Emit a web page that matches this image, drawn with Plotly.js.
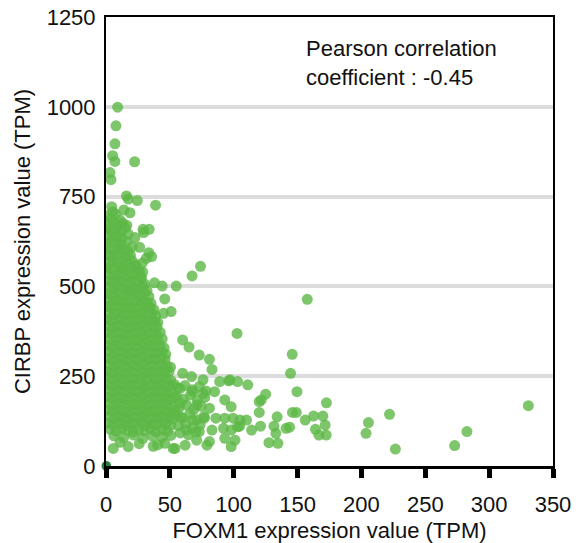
<!DOCTYPE html>
<html>
<head>
<meta charset="utf-8">
<script src="https://cdn.plot.ly/plotly-3.0.1.min.js"></script>
<style>
  html, body { margin: 0; padding: 0; background: #ffffff; }
  #chart { width: 580px; height: 543px; }
</style>
</head>
<body>
<div id="chart"></div>
<script>
// ---- Axis ticks ----
const xTicks = [0, 50, 100, 150, 200, 250, 300, 350];
const yTicks = [0, 250, 500, 750, 1000, 1250];

// ---- Dense core of samples (FOXM1 TPM, CIRBP TPM), read band by band ----
const coreFoxm1 = [
  0.8, 3.9, 7.6, 11.2,
  2.1, 5.8, 9.4, 13.0, 16.3,
  0.5, 4.2, 7.9, 11.8, 15.1,
  1.7, 5.3, 9.0, 12.6, 17.4,
  0.9, 4.6, 8.3, 12.1, 16.0,
  2.4, 6.1, 9.8, 13.5, 17.2, 20.5,
  0.6, 4.0, 7.7, 11.4, 15.0, 19.1,
  1.9, 5.6, 9.3, 13.1, 16.8, 20.3, 23.6,
  0.7, 4.4, 8.2, 11.9, 15.6, 19.4, 22.9, 26.1,
  2.2, 6.0, 9.7, 13.4, 17.1, 20.8, 24.6, 27.8,
  0.9, 4.7, 8.5, 12.2, 16.0, 19.7, 23.5, 27.1, 30.2,
  2.5, 6.3, 10.0, 13.8, 17.5, 21.3, 25.0, 28.8, 32.1,
  0.6, 4.3, 8.0, 11.8, 15.5, 19.2, 23.0, 26.7, 30.4, 33.6,
  2.0, 5.8, 9.5, 13.3, 17.0, 20.8, 24.5, 28.3, 32.0, 35.2,
  0.8, 4.5, 8.3, 12.0, 15.8, 19.5, 23.3, 27.0, 30.8, 34.5, 37.4,
  2.3, 6.0, 9.8, 13.5, 17.3, 21.0, 24.8, 28.5, 32.3, 36.0, 38.9,
  0.7, 4.4, 8.2, 11.9, 15.7, 19.4, 23.2, 26.9, 30.7, 34.4, 38.1, 40.6,
  2.0, 5.7, 9.6, 13.3, 17.2, 21.1, 24.8, 28.5, 32.4, 36.3, 40.0,
  0.9, 4.8, 8.5, 12.2, 16.1, 19.8, 23.7, 27.4, 31.3, 35.0, 38.9, 42.5,
  2.4, 6.2, 10.1, 13.7, 17.6, 21.3, 25.2, 29.1, 32.7, 36.6, 40.3, 44.0,
  0.7, 4.5, 8.2, 12.1, 15.8, 19.7, 23.4, 27.3, 31.0, 34.9, 38.6, 42.3, 45.5,
  2.1, 5.9, 9.6, 13.5, 17.2, 21.1, 24.8, 28.7, 32.4, 36.3, 40.0, 43.9, 46.8,
  0.8, 4.6, 8.3, 12.2, 15.9, 19.8, 23.5, 27.4, 31.1, 35.0, 38.7, 42.6, 46.2,
  2.3, 6.1, 9.8, 13.7, 17.4, 21.3, 25.0, 28.9, 32.6, 36.5, 40.2, 44.1, 47.7, 50.5,
  0.6, 4.4, 8.1, 12.0, 15.7, 19.6, 23.3, 27.2, 30.9, 34.8, 38.5, 42.4, 46.0, 49.3,
  1.5, 5.3, 9.1, 12.9, 16.7, 20.5, 24.3, 28.1, 31.9, 35.7, 39.5, 43.3, 47.1, 50.8,
  0.6, 4.4, 8.2, 12.0, 15.8, 19.6, 23.4, 27.2, 31.0, 34.8, 38.6, 42.4, 46.2, 50.0, 53.5,
  2.2, 6.0, 9.8, 13.6, 17.4, 21.2, 25.0, 28.8, 32.6, 36.4, 40.2, 44.0, 47.8, 51.5,
  0.9, 4.7, 8.5, 12.3, 16.1, 19.9, 23.7, 27.5, 31.3, 35.1, 38.9, 42.7, 46.5, 50.2, 53.9,
  2.5, 6.3, 10.1, 13.9, 17.7, 21.5, 25.3, 29.1, 32.9, 36.7, 40.5, 44.3, 48.1, 51.8,
  1.1, 4.9, 8.7, 12.5, 16.3, 20.1, 23.9, 27.7, 31.5, 35.3, 39.1, 42.9, 46.7, 50.4, 54.2,
  2.8, 6.6, 10.4, 14.2, 18.0, 21.8, 25.6, 29.4, 33.2, 37.0, 40.8, 44.6, 48.4, 52.0,
  1.4, 5.2, 9.0, 12.8, 16.6, 20.4, 24.2, 28.0, 31.8, 35.6, 39.4, 43.2, 47.0, 50.7,
  3.5, 8.0, 12.4, 16.9, 21.3, 25.8, 30.2, 34.7, 39.1, 43.6, 48.0,
  6.2, 13.8, 21.5, 28.9, 36.4, 43.9, 50.8
];
const coreCirbp = [
  697, 688, 701, 684,
  672, 679, 668, 676, 670,
  661, 654, 659, 651, 663,
  643, 637, 641, 634, 646,
  619, 626, 621, 617, 624,
  607, 600, 605, 602, 598, 610,
  589, 583, 586, 590, 581, 587,
  566, 571, 563, 569, 565, 572, 560,
  552, 547, 554, 549, 545, 551, 556, 543,
  534, 529, 531, 536, 528, 533, 538, 526,
  516, 511, 518, 513, 509, 517, 512, 520, 507,
  498, 493, 499, 495, 491, 497, 494, 500, 489,
  480, 476, 482, 474, 479, 477, 483, 475, 481, 472,
  462, 457, 461, 459, 455, 463, 458, 460, 456, 453,
  444, 440, 446, 438, 443, 441, 437, 445, 439, 442, 436,
  426, 421, 427, 423, 420, 425, 422, 428, 419, 424, 418,
  408, 403, 409, 405, 401, 407, 404, 410, 402, 406, 404, 400,
  390, 385, 391, 387, 383, 389, 386, 392, 384, 388, 386,
  372, 367, 373, 369, 365, 371, 368, 374, 366, 370, 368, 372,
  354, 349, 355, 351, 347, 353, 350, 356, 348, 352, 350, 354,
  336, 331, 337, 333, 329, 335, 332, 338, 330, 334, 332, 336, 329,
  318, 313, 319, 315, 311, 317, 314, 320, 312, 316, 314, 318, 311,
  300, 295, 301, 297, 293, 299, 296, 302, 294, 298, 296, 300, 297,
  282, 277, 283, 279, 275, 281, 278, 284, 276, 280, 278, 282, 279, 275,
  264, 259, 265, 261, 257, 263, 260, 266, 258, 262, 260, 264, 261, 263,
  246, 241, 247, 243, 239, 245, 242, 248, 240, 244, 242, 246, 243, 238,
  228, 223, 229, 225, 221, 227, 224, 230, 222, 226, 224, 228, 225, 221, 227,
  210, 205, 211, 207, 203, 209, 206, 212, 204, 208, 206, 210, 207, 203,
  192, 187, 193, 189, 185, 191, 188, 194, 186, 190, 188, 192, 189, 185, 191,
  174, 169, 175, 171, 167, 173, 170, 176, 168, 172, 170, 174, 171, 167,
  156, 151, 157, 153, 149, 155, 152, 158, 150, 154, 152, 156, 153, 149, 155,
  138, 133, 139, 135, 131, 137, 134, 140, 132, 136, 134, 138, 135, 131,
  120, 115, 121, 117, 113, 119, 116, 122, 114, 118, 116, 120, 117, 113,
  102, 97, 104, 99, 95, 101, 98, 103, 96, 100, 97,
  84, 79, 86, 77, 83, 80, 85
];

// ---- Semi-dense shoulder (FOXM1 55-80) ----
const shoulderFoxm1 = [56.1, 61.8, 67.4, 73.0, 78.2, 55.0, 60.5, 66.2, 71.6, 77.3, 57.4, 63.0, 68.8, 74.5,
  54.3, 59.9, 65.6, 71.1, 76.8, 56.8, 62.4, 68.1, 73.7, 58.2, 64.5, 70.3];
const shoulderCirbp = [218, 224, 212, 221, 209, 194, 186, 198, 183, 191, 163, 170, 158, 166,
  141, 134, 146, 129, 138, 112, 118, 106, 115, 92, 87, 95];

// ---- Upper scattered samples ----
const upperFoxm1 = [9.1, 7.8, 7.0, 5.2, 7.0, 22.4, 3.1, 3.9, 16.0, 17.4, 24.5, 38.8, 4.4, 5.5, 14.0, 18.8,
  29.0, 33.8, 22.7, 29.5, 26.3, 33.5, 31.5, 35.7, 28.4, 74.0, 67.4, 28.7, 55.0, 44.0, 38.0, 46.0, 51.0, 45.0];
const upperCirbp = [999, 947, 897, 864, 848, 847, 817, 797, 752, 743, 739, 726, 722, 708, 713, 705,
  659, 659, 636, 650, 609, 594, 578, 583, 565, 556, 529, 540, 501, 501, 510, 465, 430, 425];

// ---- Right-hand cloud (FOXM1 45-120) ----
const cloudFoxm1 = [60, 65, 73, 81, 83, 102.6, 60, 67, 76, 89, 97, 103, 111, 120, 58, 68, 76, 85, 93, 98,
  58, 71, 81, 86, 93, 99.5, 105, 110, 114, 58, 68, 77, 63, 73, 83, 92, 98, 103, 81, 93, 98, 101, 71,
  54, 46, 62, 79];
const cloudCirbp = [351, 331, 309, 297, 269, 369, 258, 249, 240, 235, 240, 235, 226, 179, 216, 207, 202, 207, 184, 165,
  175, 170, 161, 133, 133, 133, 128, 128, 100, 137, 128, 133, 100, 96, 100, 105, 100, 109, 68, 77, 54, 72, 72,
  49, 63, 58, 58];

// ---- Far tail (FOXM1 > 95) ----
const tailFoxm1 = [96, 125, 121.6, 104.7, 121, 120, 127.6, 134.6, 133, 131.5, 134, 143.8, 145.8, 144.5, 149.5, 146, 149,
  156, 162.5, 169.8, 171.6, 164, 166.7, 172.4, 172.6, 157.6, 141, 205.5, 203.6, 222, 226.6, 273, 282.6, 330.7];
const tailCirbp = [237, 200, 184, 111, 111, 149, 65, 63, 91, 111, 137, 108, 311, 258, 207, 149, 149,
  128, 139, 139, 114, 102, 86, 86, 176, 464, 105, 121, 91, 144, 47, 57, 96, 168];

// ---- Low samples ----
const lowFoxm1 = [5.7, 17.4, 37, 40.5, 52.6, 26, 11];
const lowCirbp = [49, 54, 55, 59, 49, 62, 66];

// ---- Samples at the origin ----
const zeroFoxm1 = [0, 0.4];
const zeroCirbp = [0, 1.5];

const annotationText = 'Pearson correlation<br>coefficient : -0.45';

const allFoxm1 = [].concat(coreFoxm1, shoulderFoxm1, upperFoxm1, cloudFoxm1, tailFoxm1, lowFoxm1);
const allCirbp = [].concat(coreCirbp, shoulderCirbp, upperCirbp, cloudCirbp, tailCirbp, lowCirbp);

const FONT = 'Arial, "Liberation Sans", Helvetica, sans-serif';

const traces = [
  {
    type: 'scatter', mode: 'markers',
    x: allFoxm1, y: allCirbp,
    marker: { color: 'rgb(92,184,70)', size: 11, opacity: 0.8, line: { width: 0 } },
    hoverinfo: 'x+y', showlegend: false
  },
  {
    type: 'scatter', mode: 'markers',
    x: zeroFoxm1, y: zeroCirbp,
    marker: { color: 'rgb(38,128,60)', size: 9, opacity: 0.9, line: { width: 0 } },
    cliponaxis: false, hoverinfo: 'x+y', showlegend: false
  }
];

const layout = {
  width: 580, height: 543,
  margin: { l: 106, r: 27, t: 17, b: 77, pad: 0 },
  paper_bgcolor: '#ffffff', plot_bgcolor: '#ffffff',
  font: { family: FONT, size: 22, color: '#111111' },
  showlegend: false,
  xaxis: {
    range: [0, 350], tickvals: xTicks, ticktext: xTicks.map(String),
    ticks: 'outside', ticklen: 9, tickwidth: 5, tickcolor: '#000000',
    ticklabelstandoff: 8,
    showline: true, linecolor: '#000000', linewidth: 2.5, mirror: true,
    showgrid: false, zeroline: false,
    tickfont: { family: FONT, size: 22, color: '#111111' },
    title: { text: 'FOXM1 expression value (TPM)', font: { family: FONT, size: 22, color: '#111111' }, standoff: 8 }
  },
  yaxis: {
    range: [0, 1250], tickvals: yTicks, ticktext: yTicks.map(String),
    ticks: '', ticklabelstandoff: 4,
    showline: true, linecolor: '#000000', linewidth: 2, mirror: true,
    showgrid: true, gridcolor: '#dcdcdc', gridwidth: 4, zeroline: false,
    tickfont: { family: FONT, size: 22, color: '#111111' },
    title: { text: 'CIRBP expression value (TPM)', font: { family: FONT, size: 22, color: '#111111' }, standoff: 10 }
  },
  annotations: [{
    text: annotationText, xref: 'paper', yref: 'paper',
    x: 0.443, y: 0.962, xanchor: 'left', yanchor: 'top', align: 'left', showarrow: false,
    font: { family: FONT, size: 22, color: '#111111' }
  }]
};

Plotly.newPlot('chart', traces, layout, { displayModeBar: false, staticPlot: true });
</script>
</body>
</html>
